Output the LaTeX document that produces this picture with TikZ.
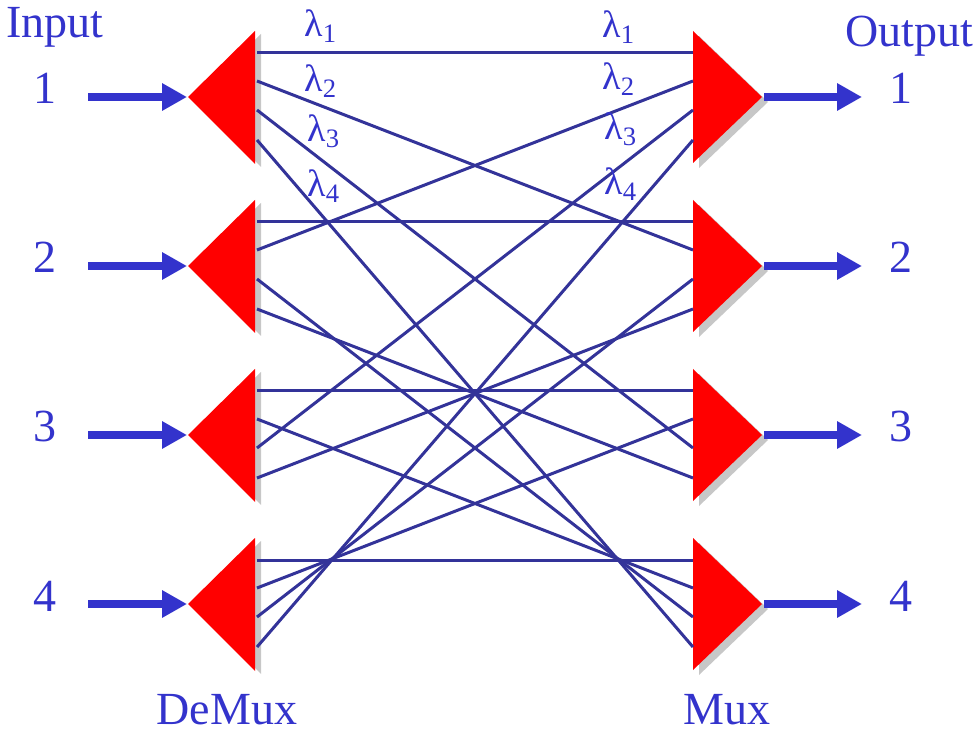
\documentclass[tikz,border=0pt]{standalone}
\usepackage{fontspec}
\setmainfont{Liberation Serif}
\usetikzlibrary{arrows.meta}
\definecolor{feedblue}{RGB}{51,51,204}
\definecolor{fibreblue}{RGB}{51,51,153}
\begin{document}
\begin{tikzpicture}[x=0.5pt,y=-0.5pt,
  fibre/.style={draw=fibreblue, line width=1.5pt},
  feed/.style={draw=feedblue, line width=4pt, -{Triangle[length=12.5pt,width=13pt]}},
  tag/.style={text=feedblue, font=\fontsize{23}{26}\selectfont, inner sep=0pt, anchor=base},
  lam/.style={text=feedblue, font=\fontsize{19}{22}\selectfont, inner sep=0pt, anchor=base west},
  prism/.style={fill=red},
  shade/.style={fill=black!22}
]
\useasboundingbox (0,0) rectangle (973,731);

% DeMux and Mux blocks with their ports
\foreach \i/\c in {1/97,2/266,3/435,4/604}{
  \fill[shade] (194,\c+3) -- (261,\c-63) -- (261,\c+70) -- cycle;
  \fill[prism] (188,\c) -- (255,\c-66) -- (255,\c+67) -- cycle;
  \fill[shade] (699,\c-61) -- (768,\c+5) -- (699,\c+71) -- cycle;
  \fill[prism] (693,\c-66) -- (762,\c) -- (693,\c+66) -- cycle;
  \coordinate (dm\i) at (187,\c);
  \coordinate (mx\i) at (764,\c);
  \coordinate (in\i) at (88,\c);
  \coordinate (out\i) at (862,\c);
  \foreach \j/\o in {1/-44,2/-16,3/13,4/43}{
    \coordinate (dm\i-\j) at (257,\c+\o);
    \coordinate (mx\i-\j) at (693,\c+\o);
  }
  \node[tag] (num\i) at (45,\c+7) {\i};
  \node[tag] (onum\i) at (901,\c+7) {\i};
}

% fibres: demux i, wavelength j -> mux k
\foreach \i/\j/\k in {1/1/1,1/2/2,1/3/3,1/4/4,
                      2/1/2,2/2/1,2/3/4,2/4/3,
                      3/1/3,3/2/4,3/3/1,3/4/2,
                      4/1/4,4/2/3,4/3/2,4/4/1}
  \draw[fibre] (dm\i-\j) -- (mx\k-\j);

% input and output arrows
\foreach \i in {1,...,4}{
  \draw[feed] (in\i) -- (dm\i);
  \draw[feed] (mx\i) -- (out\i);
}

% labels
\node[tag] (input) at (55,38) {Input};
\node[tag] (output) at (909,47) {Output};
\node[tag] (demuxlbl) at (227,724) {DeMux};
\node[tag] (muxlbl) at (727,724) {Mux};

\node[lam] (lamL1) at (304,37) {λ\textsubscript{1}};
\node[lam] (lamL2) at (304,92) {λ\textsubscript{2}};
\node[lam] (lamL3) at (307,142) {λ\textsubscript{3}};
\node[lam] (lamL4) at (307,197) {λ\textsubscript{4}};
\node[lam] (lamR1) at (602,38) {λ\textsubscript{1}};
\node[lam] (lamR2) at (602,90) {λ\textsubscript{2}};
\node[lam] (lamR3) at (604,140) {λ\textsubscript{3}};
\node[lam] (lamR4) at (604,195) {λ\textsubscript{4}};
\end{tikzpicture}
\end{document}
